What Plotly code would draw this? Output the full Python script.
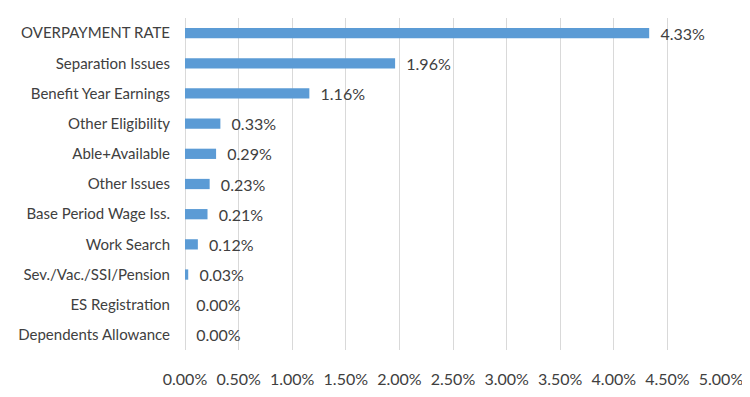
import plotly.graph_objects as go

categories = ["OVERPAYMENT RATE", "Separation Issues", "Benefit Year Earnings",
              "Other Eligibility", "Able+Available", "Other Issues",
              "Base Period Wage Iss.", "Work Search", "Sev./Vac./SSI/Pension",
              "ES Registration", "Dependents Allowance"]
values = [4.33, 1.96, 1.16, 0.33, 0.29, 0.23, 0.21, 0.12, 0.03, 0.00, 0.00]
tick_vals = [0, 0.5, 1, 1.5, 2, 2.5, 3, 3.5, 4, 4.5, 5]
tick_text = ["0.00%", "0.50%", "1.00%", "1.50%", "2.00%", "2.50%",
             "3.00%", "3.50%", "4.00%", "4.50%", "5.00%"]

font_family = "Lato, 'Open Sans', sans-serif"
text_color = "#404040"

fig = go.Figure(go.Bar(
    x=values, y=categories, orientation="h",
    marker=dict(color="#5B9BD5", line=dict(width=0)),
    width=0.34,
    text=["  " + f"{v:.2f}%" for v in values],
    textposition="outside",
    constraintext="none",
    textfont=dict(family=font_family, size=16, color=text_color),
    cliponaxis=False,
))

fig.update_layout(
    width=742, height=389,
    margin=dict(l=177, r=29, t=10, b=47, autoexpand=False),
    paper_bgcolor="white", plot_bgcolor="white",
    showlegend=False,
    font=dict(family=font_family, size=15, color=text_color),
    xaxis=dict(range=[0, 5], tickvals=tick_vals, ticktext=tick_text,
               showgrid=True, gridcolor="#D9D9D9", gridwidth=1,
               zeroline=True, zerolinecolor="#D9D9D9", zerolinewidth=1,
               showline=False, ticks="", ticklabelstandoff=18, automargin=False,
               tickfont=dict(family=font_family, size=16, color=text_color)),
    yaxis=dict(categoryorder="array", categoryarray=categories[::-1],
               showgrid=False, zeroline=False, showline=False, ticks="",
               ticklabelstandoff=14, automargin=False,
               tickfont=dict(family=font_family, size=15, color=text_color)),
)

fig.write_html("out.html")
